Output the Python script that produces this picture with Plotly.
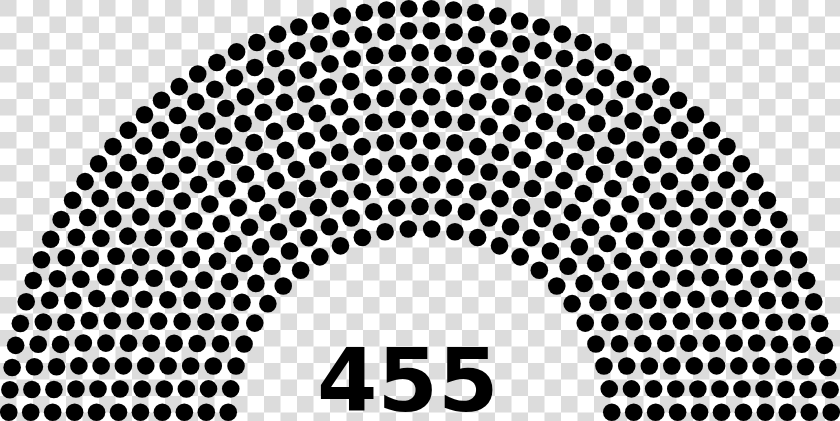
import math
import base64
import plotly.graph_objects as go

# ---- data ----
party_names = ["Seats"]
party_seats = [455]
party_colors = ["#000000"]
total_label = "455"

# Seat-count table of the classic parliament-diagram layout (seats per number of rows)
row_totals = [3, 15, 33, 61, 95, 138, 189, 247, 313, 388, 469, 559, 657, 762, 876, 997]

# ---- parliament layout (arcs of seats) ----
total = sum(party_seats)
rows = next(i + 1 for i, t in enumerate(row_totals) if t >= total)
dot_r = 0.4 / rows
positions = []
for i in range(1, rows):
    J = int(float(total) / row_totals[rows - 1] * math.pi / (2 * math.asin(2.0 / (3.0 * rows + 4.0 * i - 2.0))))
    R = (3.0 * rows + 4.0 * i - 2.0) / (4.0 * rows)
    for j in range(J):
        a = j * (math.pi - 2.0 * math.sin(dot_r / R)) / (J - 1.0) + math.sin(dot_r / R)
        positions.append((a, R * math.cos(a), R * math.sin(a)))
J = total - len(positions)
R_out = (7.0 * rows - 2.0) / (4.0 * rows)
for j in range(J):
    a = j * (math.pi - 2.0 * math.sin(dot_r / R_out)) / (J - 1.0) + math.sin(dot_r / R_out)
    positions.append((a, R_out * math.cos(a), R_out * math.sin(a)))
positions.sort(reverse=True)

W, H = 840, 421
# extent of the seat block (tight bounding box)
x_max = max(p[1] for p in positions) + dot_r
y_max = max(p[2] for p in positions) + dot_r
y_min = min(p[2] for p in positions) - dot_r
sx = W / (2 * x_max)
sy = H / (y_max - y_min)

fig = go.Figure()
start = 0
for name, n, col in zip(party_names, party_seats, party_colors):
    pts = positions[start:start + n]
    start += n
    fig.add_trace(go.Scatter(
        x=[p[1] for p in pts], y=[p[2] for p in pts], mode="markers",
        name=name, hoverinfo="skip", cliponaxis=False,
        marker=dict(size=2 * dot_r * (sx + sy) / 2, color=col, line=dict(width=0)),
    ))

# checkerboard (transparency) background
sq = 16.5
svg = (f'<svg xmlns="http://www.w3.org/2000/svg" width="{W}" height="{H}">'
       f'<defs><pattern id="c" width="{2*sq}" height="{2*sq}" patternUnits="userSpaceOnUse">'
       f'<rect width="{2*sq}" height="{2*sq}" fill="#ffffff"/>'
       f'<rect x="0" y="0" width="{sq}" height="{sq}" fill="#dcdcdc"/>'
       f'<rect x="{sq}" y="{sq}" width="{sq}" height="{sq}" fill="#dcdcdc"/>'
       f'</pattern></defs><rect width="{W}" height="{H}" fill="url(#c)"/></svg>')
src = "data:image/svg+xml;base64," + base64.b64encode(svg.encode()).decode()

label_x = -0.05                       # label centre (diagram units)
label_y = y_max - 380 / sy            # label vertical centre

fig.update_layout(
    width=W, height=H, margin=dict(l=0, r=0, t=0, b=0),
    paper_bgcolor="#ffffff", plot_bgcolor="rgba(0,0,0,0)",
    showlegend=False,
    xaxis=dict(range=[-x_max, x_max], visible=False, fixedrange=True),
    yaxis=dict(range=[y_min, y_max], visible=False, fixedrange=True),
    images=[dict(source=src, xref="paper", yref="paper", x=0, y=1, sizex=1, sizey=1,
                 sizing="stretch", xanchor="left", yanchor="top", layer="below")],
    annotations=[dict(text=f"<b>{total_label}</b>", x=label_x, y=label_y,
                      xref="x", yref="y", showarrow=False, xanchor="center", yanchor="middle",
                      font=dict(family="DejaVu Sans", size=86.9, color="#000000"))],
)
fig.write_html("out.html", post_script="document.body.style.margin='0';",
               config={"displayModeBar": False})
